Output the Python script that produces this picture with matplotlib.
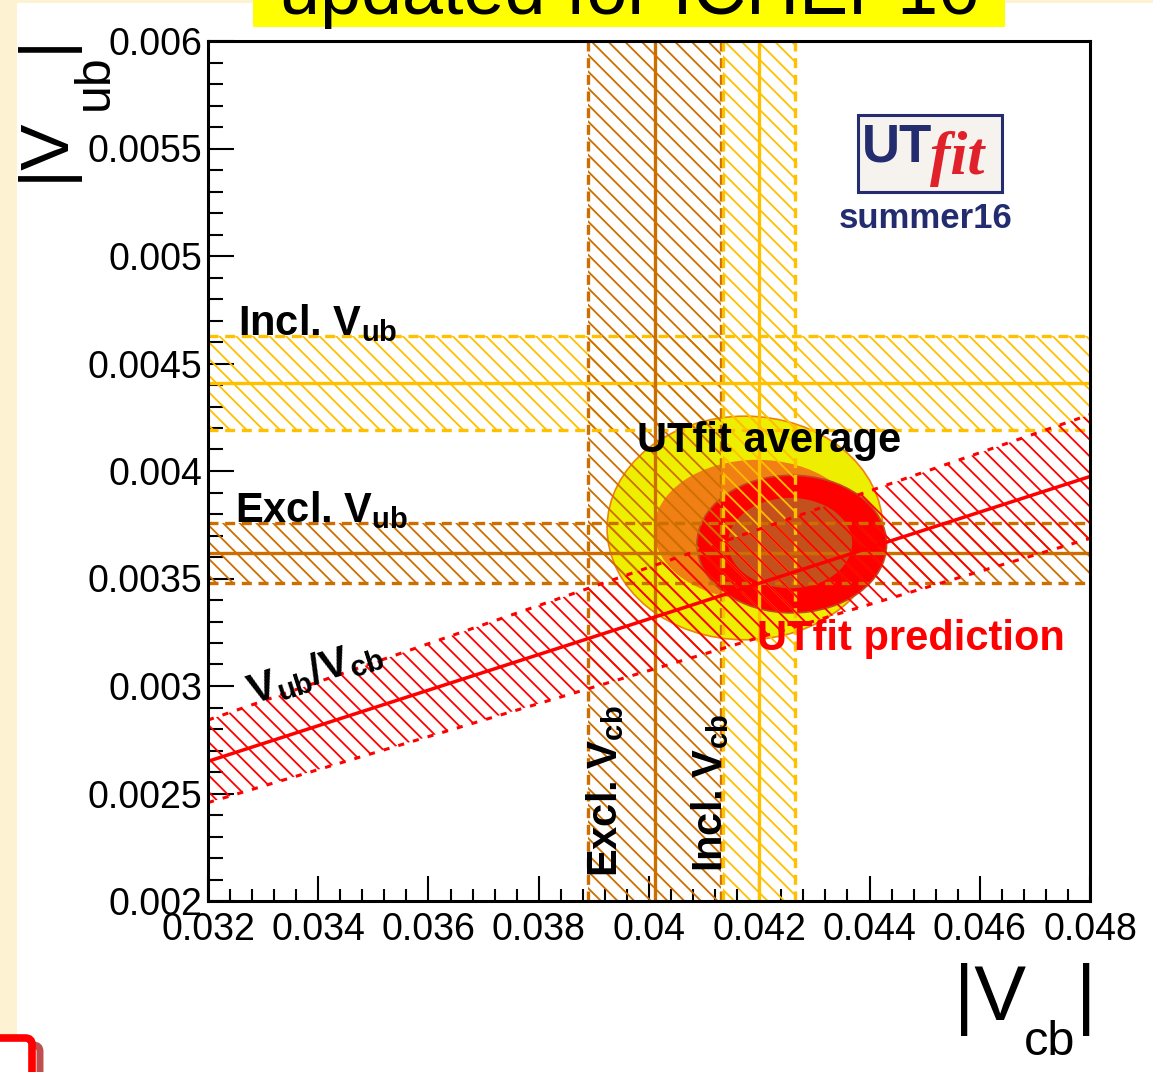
import numpy as np
import matplotlib.pyplot as plt
from matplotlib.patches import Ellipse, Rectangle, Polygon, FancyBboxPatch
from matplotlib.ticker import MultipleLocator

plt.rcParams['font.family'] = ['Liberation Sans', 'DejaVu Sans']
plt.rcParams['mathtext.fontset'] = 'custom'
plt.rcParams['mathtext.rm'] = 'Liberation Sans'
plt.rcParams['mathtext.bf'] = 'Liberation Sans:bold'
plt.rcParams['mathtext.it'] = 'Liberation Sans:italic'
plt.rcParams['hatch.linewidth'] = 1.3

# axis ranges and ticks
vcb_lim = [0.032, 0.048]
vub_lim = [0.002, 0.006]
vcb_ticks = [0.032, 0.034, 0.036, 0.038, 0.040, 0.042, 0.044, 0.046, 0.048]
vcb_ticklabels = ["0.032", "0.034", "0.036", "0.038", "0.04", "0.042", "0.044", "0.046", "0.048"]
vub_ticks = [0.002, 0.0025, 0.003, 0.0035, 0.004, 0.0045, 0.005, 0.0055, 0.006]
vub_ticklabels = ["0.002", "0.0025", "0.003", "0.0035", "0.004", "0.0045", "0.005", "0.0055", "0.006"]

# measurements (value, 1 sigma)
incl_vub, incl_vub_err = 0.00441, 0.00022
excl_vub, excl_vub_err = 0.00362, 0.00014
excl_vcb, excl_vcb_err = 0.0401, 0.0012
incl_vcb, incl_vcb_err = 0.0420, 0.00065
ratio, ratio_err = 0.0828, 0.0060

# fit contours: centre (vcb, vub) and half axes (vcb, vub)
avg95_c, avg95_r = (0.04174, 0.003735), (0.00250, 0.000520)
avg68_c, avg68_r = (0.04196, 0.003726), (0.00187, 0.000326)
pred95_c, pred95_r = (0.04259, 0.003660), (0.00172, 0.000320)
pred68_c, pred68_r = (0.04256, 0.003665), (0.001125, 0.000210)

W, H = 1153, 1072
fig = plt.figure(figsize=(W / 100, H / 100), dpi=100)
fig.patch.set_facecolor('white')


def px(x, y):
    return x / W, 1 - y / H


ax = fig.add_axes([208 / W, 1 - 901 / H, 882 / W, 860 / H])
ax.set_xlim(vcb_lim)
ax.set_ylim(vub_lim)

# contours
ax.add_patch(Ellipse(avg95_c, 2 * avg95_r[0], 2 * avg95_r[1], facecolor='#eeee00',
                     edgecolor='#f08010', lw=1.2, zorder=1))
ax.add_patch(Ellipse(avg68_c, 2 * avg68_r[0], 2 * avg68_r[1], facecolor='#f08014',
                     edgecolor='none', zorder=1.1))
ax.add_patch(Ellipse(pred95_c, 2 * pred95_r[0], 2 * pred95_r[1], facecolor='#ff0000',
                     edgecolor='#c04a20', lw=1.2, zorder=1.2))
ax.add_patch(Ellipse(pred68_c, 2 * pred68_r[0], 2 * pred68_r[1], facecolor='#c4501e',
                     edgecolor='none', zorder=1.3))

excl_col = '#cc6e00'
incl_col = '#ffc000'
band_lw = 2.4


def hband(val, err, col):
    ax.add_patch(Rectangle((vcb_lim[0], val - err), vcb_lim[1] - vcb_lim[0], 2 * err,
                           facecolor='none', edgecolor=col, lw=0, hatch='\\\\', zorder=2))
    ax.axhline(val - err, color=col, lw=band_lw, dashes=(3, 2), zorder=2.1)
    ax.axhline(val + err, color=col, lw=band_lw, dashes=(3, 2), zorder=2.1)
    ax.axhline(val, color=col, lw=band_lw, zorder=2.2)


def vband(val, err, col):
    ax.add_patch(Rectangle((val - err, vub_lim[0]), 2 * err, vub_lim[1] - vub_lim[0],
                           facecolor='none', edgecolor=col, lw=0, hatch='\\\\', zorder=2))
    ax.axvline(val - err, color=col, lw=band_lw, dashes=(3, 2), zorder=2.1)
    ax.axvline(val + err, color=col, lw=band_lw, dashes=(3, 2), zorder=2.1)
    ax.axvline(val, color=col, lw=band_lw, zorder=2.2)


hband(incl_vub, incl_vub_err, incl_col)
hband(excl_vub, excl_vub_err, excl_col)
vband(excl_vcb, excl_vcb_err, excl_col)
vband(incl_vcb, incl_vcb_err, incl_col)

# |Vub/Vcb| wedge
xs = np.array(vcb_lim)
lo = xs * (ratio - ratio_err)
hi = xs * (ratio + ratio_err)
ax.add_patch(Polygon([(xs[0], lo[0]), (xs[1], lo[1]), (xs[1], hi[1]), (xs[0], hi[0])],
                     facecolor='none', edgecolor='#ff0000', lw=0, hatch='\\\\', zorder=2.3))
ax.plot(xs, lo, color='#ff0000', lw=2.2, dashes=(2, 3), zorder=2.4)
ax.plot(xs, hi, color='#ff0000', lw=2.2, dashes=(2, 3), zorder=2.4)
ax.plot(xs, xs * ratio, color='#ff0000', lw=2.5, zorder=2.5)

# labels inside the frame
lab = dict(fontsize=30, fontweight='bold', zorder=5)
ax.text(0.03254, 0.004633, r"Incl. $\mathbf{V}_{\mathbf{ub}}$", ha='left', va='baseline', **lab)
ax.text(0.03249, 0.003763, r"Excl. $\mathbf{V}_{\mathbf{ub}}$", ha='left', va='baseline', **lab)
ax.text(0.03942, 0.002112, r"Excl. $\mathbf{V}_{\mathbf{cb}}$", rotation=90,
        rotation_mode='anchor', ha='left', va='baseline', **lab)
ax.text(0.04132, 0.002135, r"Incl. $\mathbf{V}_{\mathbf{cb}}$", rotation=90,
        rotation_mode='anchor', ha='left', va='baseline', **lab)
p0 = ax.transData.transform((xs[0], xs[0] * ratio))
p1 = ax.transData.transform((xs[1], xs[1] * ratio))
ang = np.degrees(np.arctan2(p1[1] - p0[1], p1[0] - p0[0]))
ax.text(0.0328, 0.002916, r"$\mathbf{V}_{\mathbf{ub}}\mathbf{/V}_{\mathbf{cb}}$", rotation=ang,
        rotation_mode='anchor', ha='left', va='baseline', **lab)
ax.text(0.039782, 0.004088, "UTfit average", ha='left', va='baseline', color='black', **lab)
ax.text(0.04196, 0.003167, "UTfit prediction", ha='left', va='baseline', color='#ff0000', **lab)

# frame and ticks
for s in ax.spines.values():
    s.set_linewidth(2.2)
    s.set_zorder(10)
ax.set_xticks(vcb_ticks)
ax.set_xticklabels(vcb_ticklabels)
ax.set_yticks(vub_ticks)
ax.set_yticklabels(vub_ticklabels)
ax.xaxis.set_minor_locator(MultipleLocator(0.0004))
ax.yaxis.set_minor_locator(MultipleLocator(0.0001))
ax.tick_params(which='both', direction='in', top=False, right=False, width=1.5,
               labelsize=27, zorder=10)
ax.xaxis.set_tick_params(which='major', length=18, pad=8)
ax.xaxis.set_tick_params(which='minor', length=8.5)
ax.yaxis.set_tick_params(which='major', length=19, pad=4)
ax.yaxis.set_tick_params(which='minor', length=11)

# axis titles
fig.text(*px(954, 1020), "|V", fontsize=56, ha='left', va='baseline')
fig.text(*px(1024, 1055), "cb", fontsize=35, ha='left', va='baseline')
fig.text(*px(1076, 1020), "|", fontsize=56, ha='left', va='baseline')
fig.text(*px(63, 181), "|V", fontsize=50, rotation=90, rotation_mode='anchor',
         ha='left', va='baseline')
fig.text(*px(108, 110), "ub", fontsize=36, rotation=90, rotation_mode='anchor',
         ha='left', va='baseline')
fig.text(*px(63, 52), "|", fontsize=50, rotation=90, rotation_mode='anchor',
         ha='left', va='baseline')

# UTfit logo
fig.add_artist(Rectangle(px(858, 192), 144 / W, 77 / H, transform=fig.transFigure,
                         facecolor='#f6f2ee', edgecolor='#262c72', lw=2.2))
fig.text(*px(862, 162), "UT", fontsize=38, fontweight='bold', color='#232c6e',
         ha='left', va='baseline')
fig.text(*px(930, 174), "fit", fontsize=44, style='italic', fontweight='bold',
         family='Liberation Serif', color='#e0202a', ha='left', va='baseline')
fig.text(*px(926, 228), "summer16", fontsize=25, fontweight='bold', color='#232c6e',
         ha='center', va='baseline')

# slide background pieces
fig.add_artist(Rectangle((0, 0), 17 / W, 1, transform=fig.transFigure,
                         facecolor='#fdf3d3', edgecolor='none', zorder=20))
fig.add_artist(Rectangle(px(0, 3), 1, 3 / H, transform=fig.transFigure,
                         facecolor='#fdf3d3', edgecolor='none', zorder=20))
fig.add_artist(Rectangle(px(253, 27), (1005 - 253) / W, 27 / H, transform=fig.transFigure,
                         facecolor='#ffff00', edgecolor='none', zorder=21))
fig.text(*px(629, 14), "updated for ICHEP16", fontsize=53, ha='center', va='baseline',
         color='black', zorder=22)
fig.add_artist(FancyBboxPatch(px(-30, 1110), 70 / W, 65 / H,
                              boxstyle='round,pad=0,rounding_size=0.006',
                              transform=fig.transFigure, facecolor='none',
                              edgecolor='#c05050', lw=5, zorder=22))
fig.add_artist(FancyBboxPatch(px(-40, 1110), 72 / W, 72 / H,
                              boxstyle='round,pad=0,rounding_size=0.006',
                              transform=fig.transFigure, facecolor='white',
                              edgecolor='#ff0000', lw=5.5, zorder=23))

fig.savefig("out.png", dpi=100)
